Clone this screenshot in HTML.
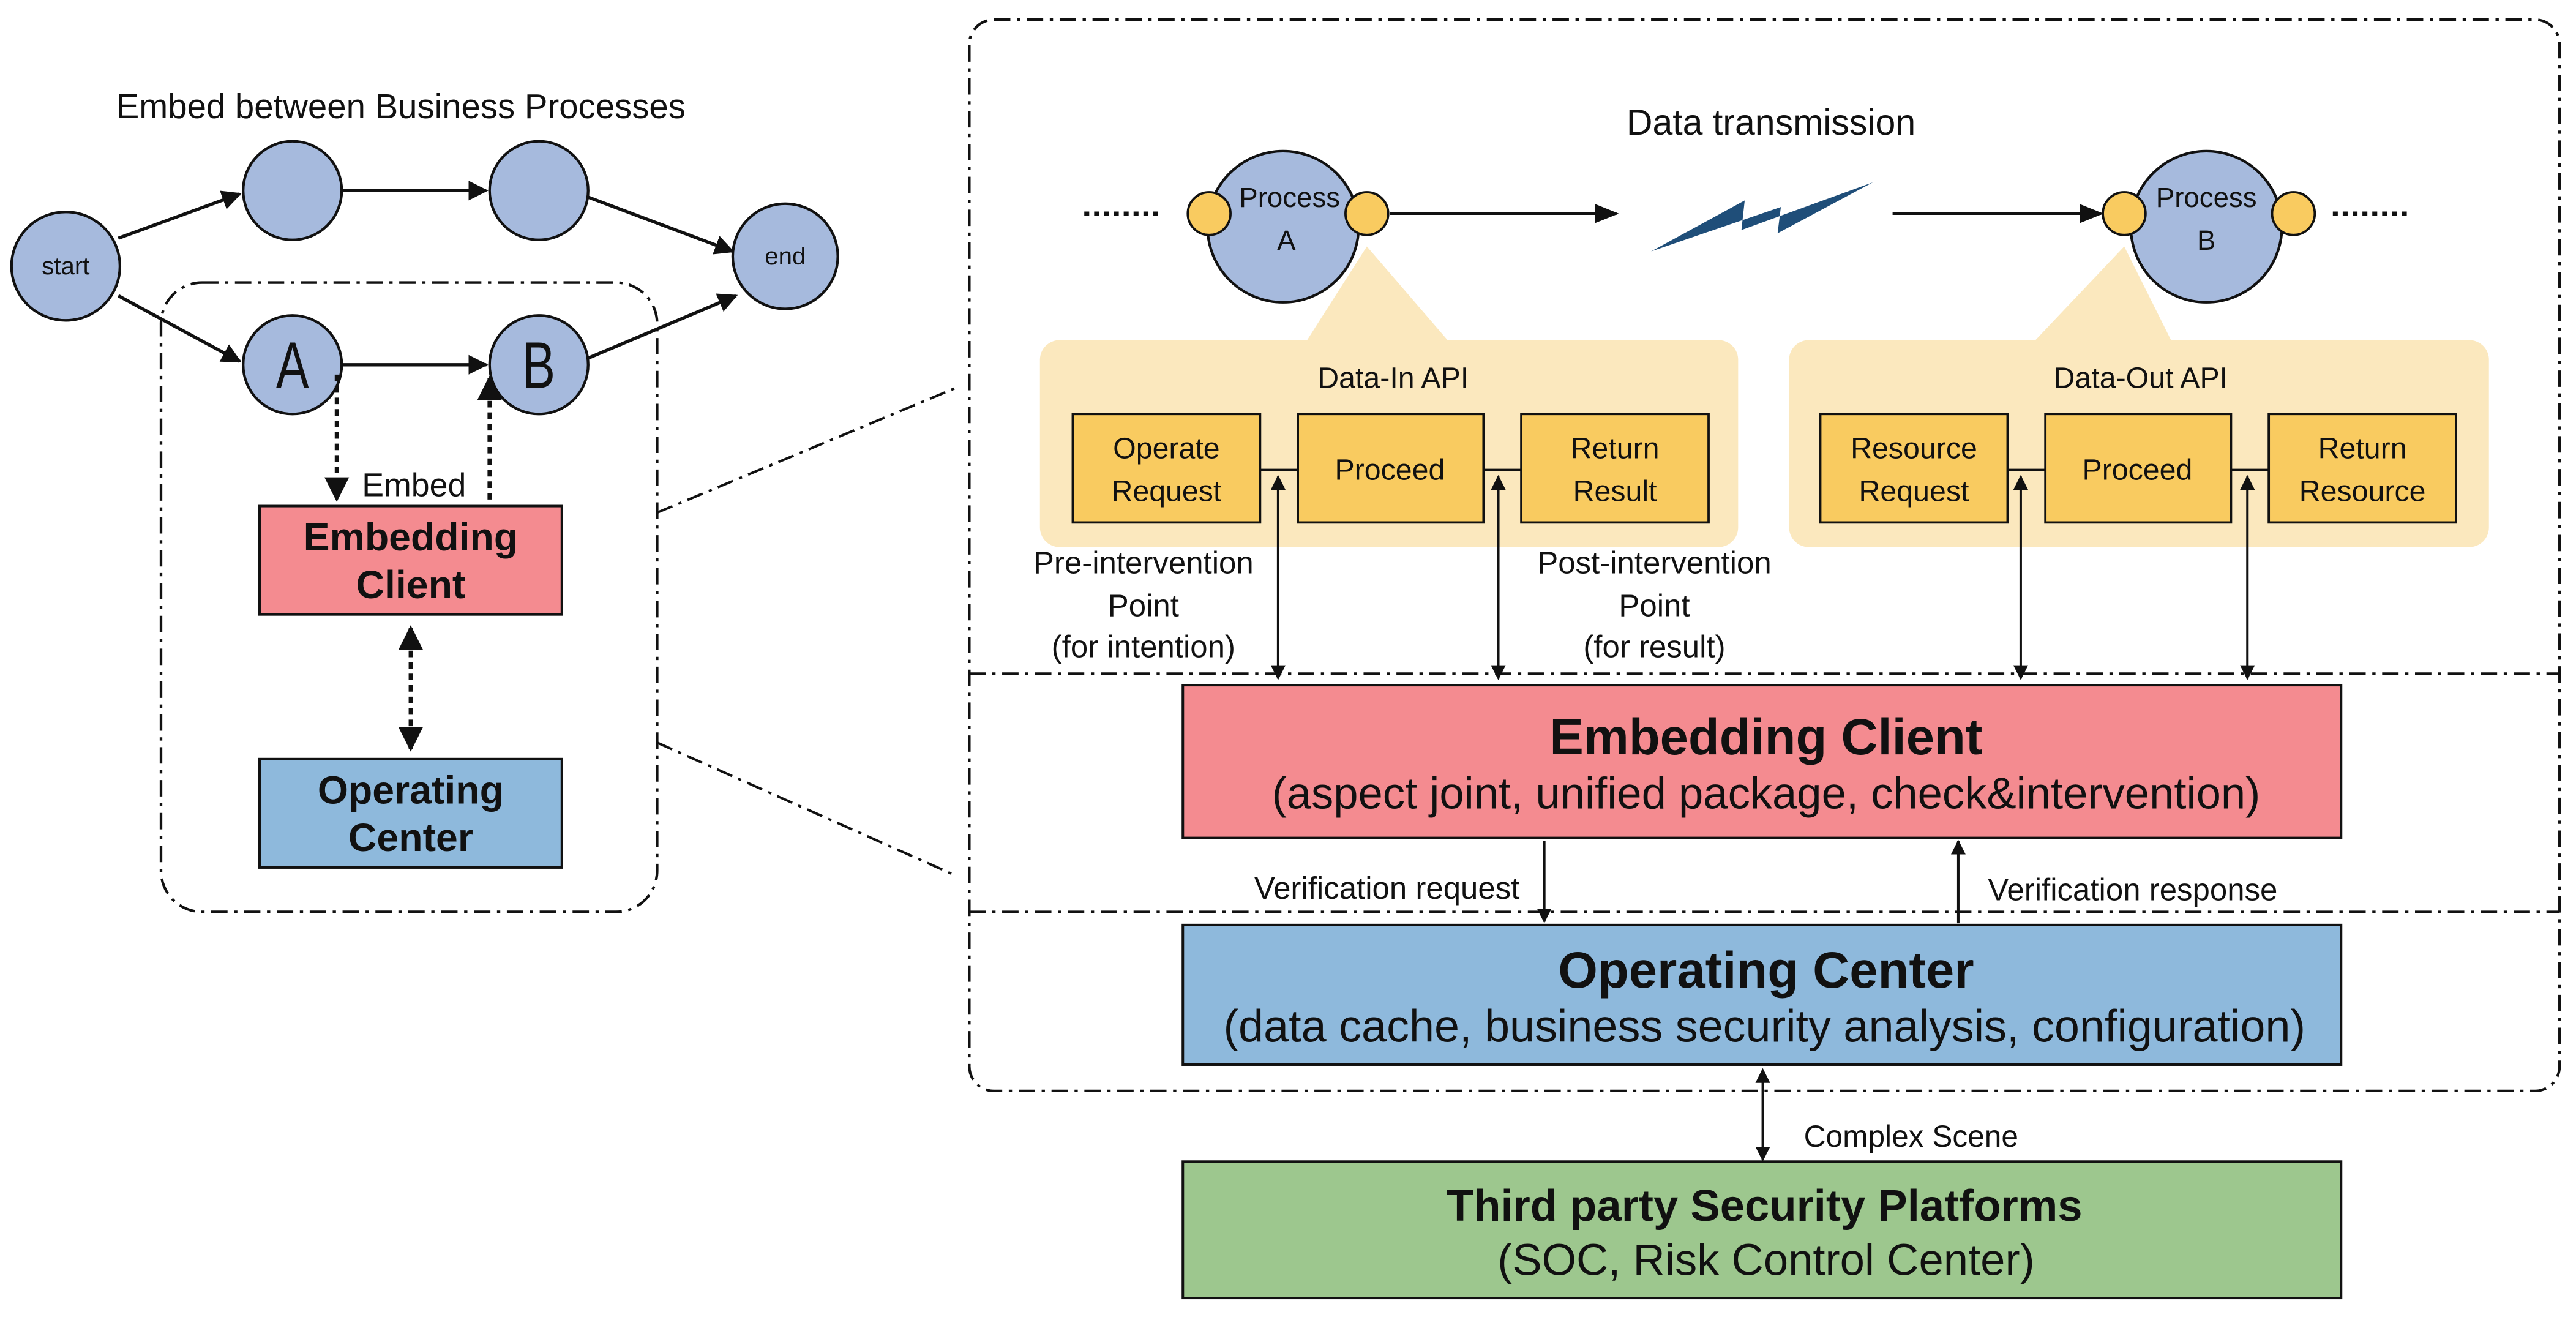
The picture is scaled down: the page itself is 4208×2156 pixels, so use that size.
<!DOCTYPE html>
<html><head><meta charset="utf-8"><style>html,body{margin:0;padding:0;background:#fff}svg{display:block}text{font-family:"Liberation Sans",sans-serif;fill:#111}</style></head>
<body>
<svg width="4208" height="2156" viewBox="0 0 1568 803.4" preserveAspectRatio="none" xmlns="http://www.w3.org/2000/svg">
<defs>
<marker id="ar" viewBox="0 0 10 10" refX="9" refY="5" markerWidth="6" markerHeight="6" orient="auto-start-reverse"><path d="M0,0L10,5L0,10z" fill="#111"/></marker>
<marker id="as" viewBox="0 0 10 10" refX="9" refY="5" markerWidth="9" markerHeight="9" orient="auto-start-reverse"><path d="M0,1L10,5L0,9z" fill="#111"/></marker>
</defs>
<rect width="1568" height="803.4" fill="#fff"/>
<!-- LEFT -->
<text x="244" y="72" font-size="21" text-anchor="middle">Embed between Business Processes</text>
<g stroke="#111" stroke-width="2" fill="none">
<line x1="72" y1="145" x2="146" y2="118" marker-end="url(#ar)"/>
<line x1="208" y1="116" x2="296" y2="116" marker-end="url(#ar)"/>
<line x1="358" y1="120" x2="446" y2="153" marker-end="url(#ar)"/>
<line x1="72" y1="180" x2="146" y2="220" marker-end="url(#ar)"/>
<line x1="208" y1="222" x2="296" y2="222" marker-end="url(#ar)"/>
<line x1="358" y1="218" x2="448" y2="180" marker-end="url(#ar)"/>
</g>
<g fill="#A6BADD" stroke="#111" stroke-width="1.6">
<circle cx="40" cy="162" r="33"/><circle cx="178" cy="116" r="30"/><circle cx="328" cy="116" r="30"/>
<circle cx="478" cy="156" r="32"/><circle cx="178" cy="222" r="30"/><circle cx="328" cy="222" r="30"/>
</g>
<text x="40" y="167" font-size="15" text-anchor="middle">start</text>
<text x="478" y="161" font-size="15" text-anchor="middle">end</text>
<text x="178" y="236" font-size="40" text-anchor="middle" transform="translate(178 0) scale(0.75 1) translate(-178 0)">A</text>
<text x="328" y="236" font-size="40" text-anchor="middle" transform="translate(328 0) scale(0.75 1) translate(-328 0)">B</text>
<rect x="98" y="172" width="302" height="383" rx="25" fill="none" stroke="#111" stroke-width="1.6" stroke-dasharray="10 4 2 4"/>
<g stroke="#111" stroke-width="2.5" stroke-dasharray="4 3" fill="none">
<line x1="205" y1="228" x2="205" y2="304" marker-end="url(#ar)"/>
<line x1="298" y1="304" x2="298" y2="230" marker-end="url(#ar)"/>
<line x1="250" y1="382" x2="250" y2="456" marker-start="url(#ar)" marker-end="url(#ar)"/>
</g>
<text x="252" y="302" font-size="20" text-anchor="middle">Embed</text>
<rect x="158" y="308" width="184" height="66" fill="#F48B90" stroke="#111" stroke-width="1.5"/>
<text x="250" y="335" font-size="24" font-weight="bold" text-anchor="middle">Embedding</text>
<text x="250" y="364" font-size="24" font-weight="bold" text-anchor="middle">Client</text>
<rect x="158" y="462" width="184" height="66" fill="#8EB9DC" stroke="#111" stroke-width="1.5"/>
<text x="250" y="489" font-size="24" font-weight="bold" text-anchor="middle">Operating</text>
<text x="250" y="518" font-size="24" font-weight="bold" text-anchor="middle">Center</text>
<g stroke="#111" stroke-width="1.5" stroke-dasharray="10 4 2 4">
<line x1="400" y1="312" x2="582" y2="236"/><line x1="400" y1="452" x2="582" y2="533"/>
</g>
<!-- RIGHT -->
<rect x="590" y="12" width="968" height="652" rx="15" fill="none" stroke="#111" stroke-width="1.6" stroke-dasharray="10 4 2 4"/>
<g stroke="#111" stroke-width="1.5" stroke-dasharray="10 4 2 4">
<line x1="590" y1="410" x2="1558" y2="410"/><line x1="590" y1="555" x2="1558" y2="555"/>
</g>
<text x="1078" y="82" font-size="22" text-anchor="middle">Data transmission</text>
<g stroke="#111" stroke-width="2.5" stroke-dasharray="3 3"><line x1="660" y1="130" x2="706" y2="130"/><line x1="1420" y1="130" x2="1466" y2="130"/></g>
<polygon points="832,150 795,208 882,208" fill="#FBE8BE"/>
<polygon points="1293,150 1238,208 1322,208" fill="#FBE8BE"/>
<rect x="633" y="207" width="425" height="126" rx="12" fill="#FBE8BE"/>
<rect x="1089" y="207" width="426" height="126" rx="12" fill="#FBE8BE"/>
<g fill="#A6BADD" stroke="#111" stroke-width="1.6"><circle cx="781" cy="138" r="46"/><circle cx="1343" cy="138" r="46"/></g>
<g fill="#F9CB60" stroke="#111" stroke-width="1.4"><circle cx="736" cy="130" r="13"/><circle cx="832" cy="130" r="13"/><circle cx="1293" cy="130" r="13"/><circle cx="1396" cy="130" r="13"/></g>
<text x="785" y="126" font-size="17" text-anchor="middle">Process</text><text x="783" y="152" font-size="17" text-anchor="middle">A</text>
<text x="1343" y="126" font-size="17" text-anchor="middle">Process</text><text x="1343" y="152" font-size="17" text-anchor="middle">B</text>
<g stroke="#111" stroke-width="1.6"><line x1="846" y1="130" x2="984" y2="130" marker-end="url(#as)"/><line x1="1152" y1="130" x2="1279" y2="130" marker-end="url(#as)"/></g>
<polygon points="1005,153 1062,122 1060,140 1140,111 1082,142 1084,126" fill="#1F4E79"/>
<text x="848" y="236" font-size="18" text-anchor="middle">Data-In API</text>
<text x="1303" y="236" font-size="18" text-anchor="middle">Data-Out API</text>
<g stroke="#111" stroke-width="1.4"><line x1="767" y1="286" x2="790" y2="286"/><line x1="903" y1="286" x2="926" y2="286"/><line x1="1222" y1="286" x2="1245" y2="286"/><line x1="1358" y1="286" x2="1381" y2="286"/></g>
<g fill="#F9CB60" stroke="#111" stroke-width="1.4">
<rect x="653" y="252" width="114" height="66"/><rect x="790" y="252" width="113" height="66"/><rect x="926" y="252" width="114" height="66"/>
<rect x="1108" y="252" width="114" height="66"/><rect x="1245" y="252" width="113" height="66"/><rect x="1381" y="252" width="114" height="66"/>
</g>
<g font-size="18" text-anchor="middle">
<text x="710" y="279">Operate</text><text x="710" y="305">Request</text>
<text x="846" y="292">Proceed</text>
<text x="983" y="279">Return</text><text x="983" y="305">Result</text>
<text x="1165" y="279">Resource</text><text x="1165" y="305">Request</text>
<text x="1301" y="292">Proceed</text>
<text x="1438" y="279">Return</text><text x="1438" y="305">Resource</text>
</g>
<g stroke="#111" stroke-width="1.5">
<line x1="778" y1="290" x2="778" y2="413" marker-start="url(#ar)" marker-end="url(#ar)"/>
<line x1="912" y1="290" x2="912" y2="413" marker-start="url(#ar)" marker-end="url(#ar)"/>
<line x1="1230" y1="290" x2="1230" y2="413" marker-start="url(#ar)" marker-end="url(#ar)"/>
<line x1="1368" y1="290" x2="1368" y2="413" marker-start="url(#ar)" marker-end="url(#ar)"/>
</g>
<g font-size="19" text-anchor="middle">
<text x="696" y="349">Pre-intervention</text><text x="696" y="375">Point</text><text x="696" y="400">(for intention)</text>
<text x="1007" y="349">Post-intervention</text><text x="1007" y="375">Point</text><text x="1007" y="400">(for result)</text>
</g>
<rect x="720" y="417" width="705" height="93" fill="#F48B90" stroke="#111" stroke-width="1.5"/>
<text x="1075" y="459" font-size="31" font-weight="bold" text-anchor="middle">Embedding Client</text>
<text x="1075" y="492" font-size="27" text-anchor="middle">(aspect joint, unified package,  check&amp;intervention)</text>
<g stroke="#111" stroke-width="1.5">
<line x1="940" y1="512" x2="940" y2="561" marker-end="url(#ar)"/>
<line x1="1192" y1="562" x2="1192" y2="512" marker-end="url(#ar)"/>
<line x1="1073" y1="651" x2="1073" y2="706" marker-start="url(#ar)" marker-end="url(#ar)"/>
</g>
<text x="925" y="547" font-size="19" text-anchor="end">Verification request</text>
<text x="1210" y="548" font-size="19">Verification response</text>
<rect x="720" y="563" width="705" height="85" fill="#8EB9DC" stroke="#111" stroke-width="1.5"/>
<text x="1075" y="601" font-size="31" font-weight="bold" text-anchor="middle">Operating Center</text>
<text x="1074" y="634" font-size="27.5" text-anchor="middle">(data cache, business security analysis, configuration)</text>
<text x="1098" y="698" font-size="18.5">Complex Scene</text>
<rect x="720" y="707" width="705" height="83" fill="#9DC78E" stroke="#111" stroke-width="1.5"/>
<text x="1074" y="743" font-size="27" font-weight="bold" text-anchor="middle">Third party Security Platforms</text>
<text x="1075" y="776" font-size="27" text-anchor="middle">(SOC, Risk Control Center)</text>
</svg>
</body></html>
